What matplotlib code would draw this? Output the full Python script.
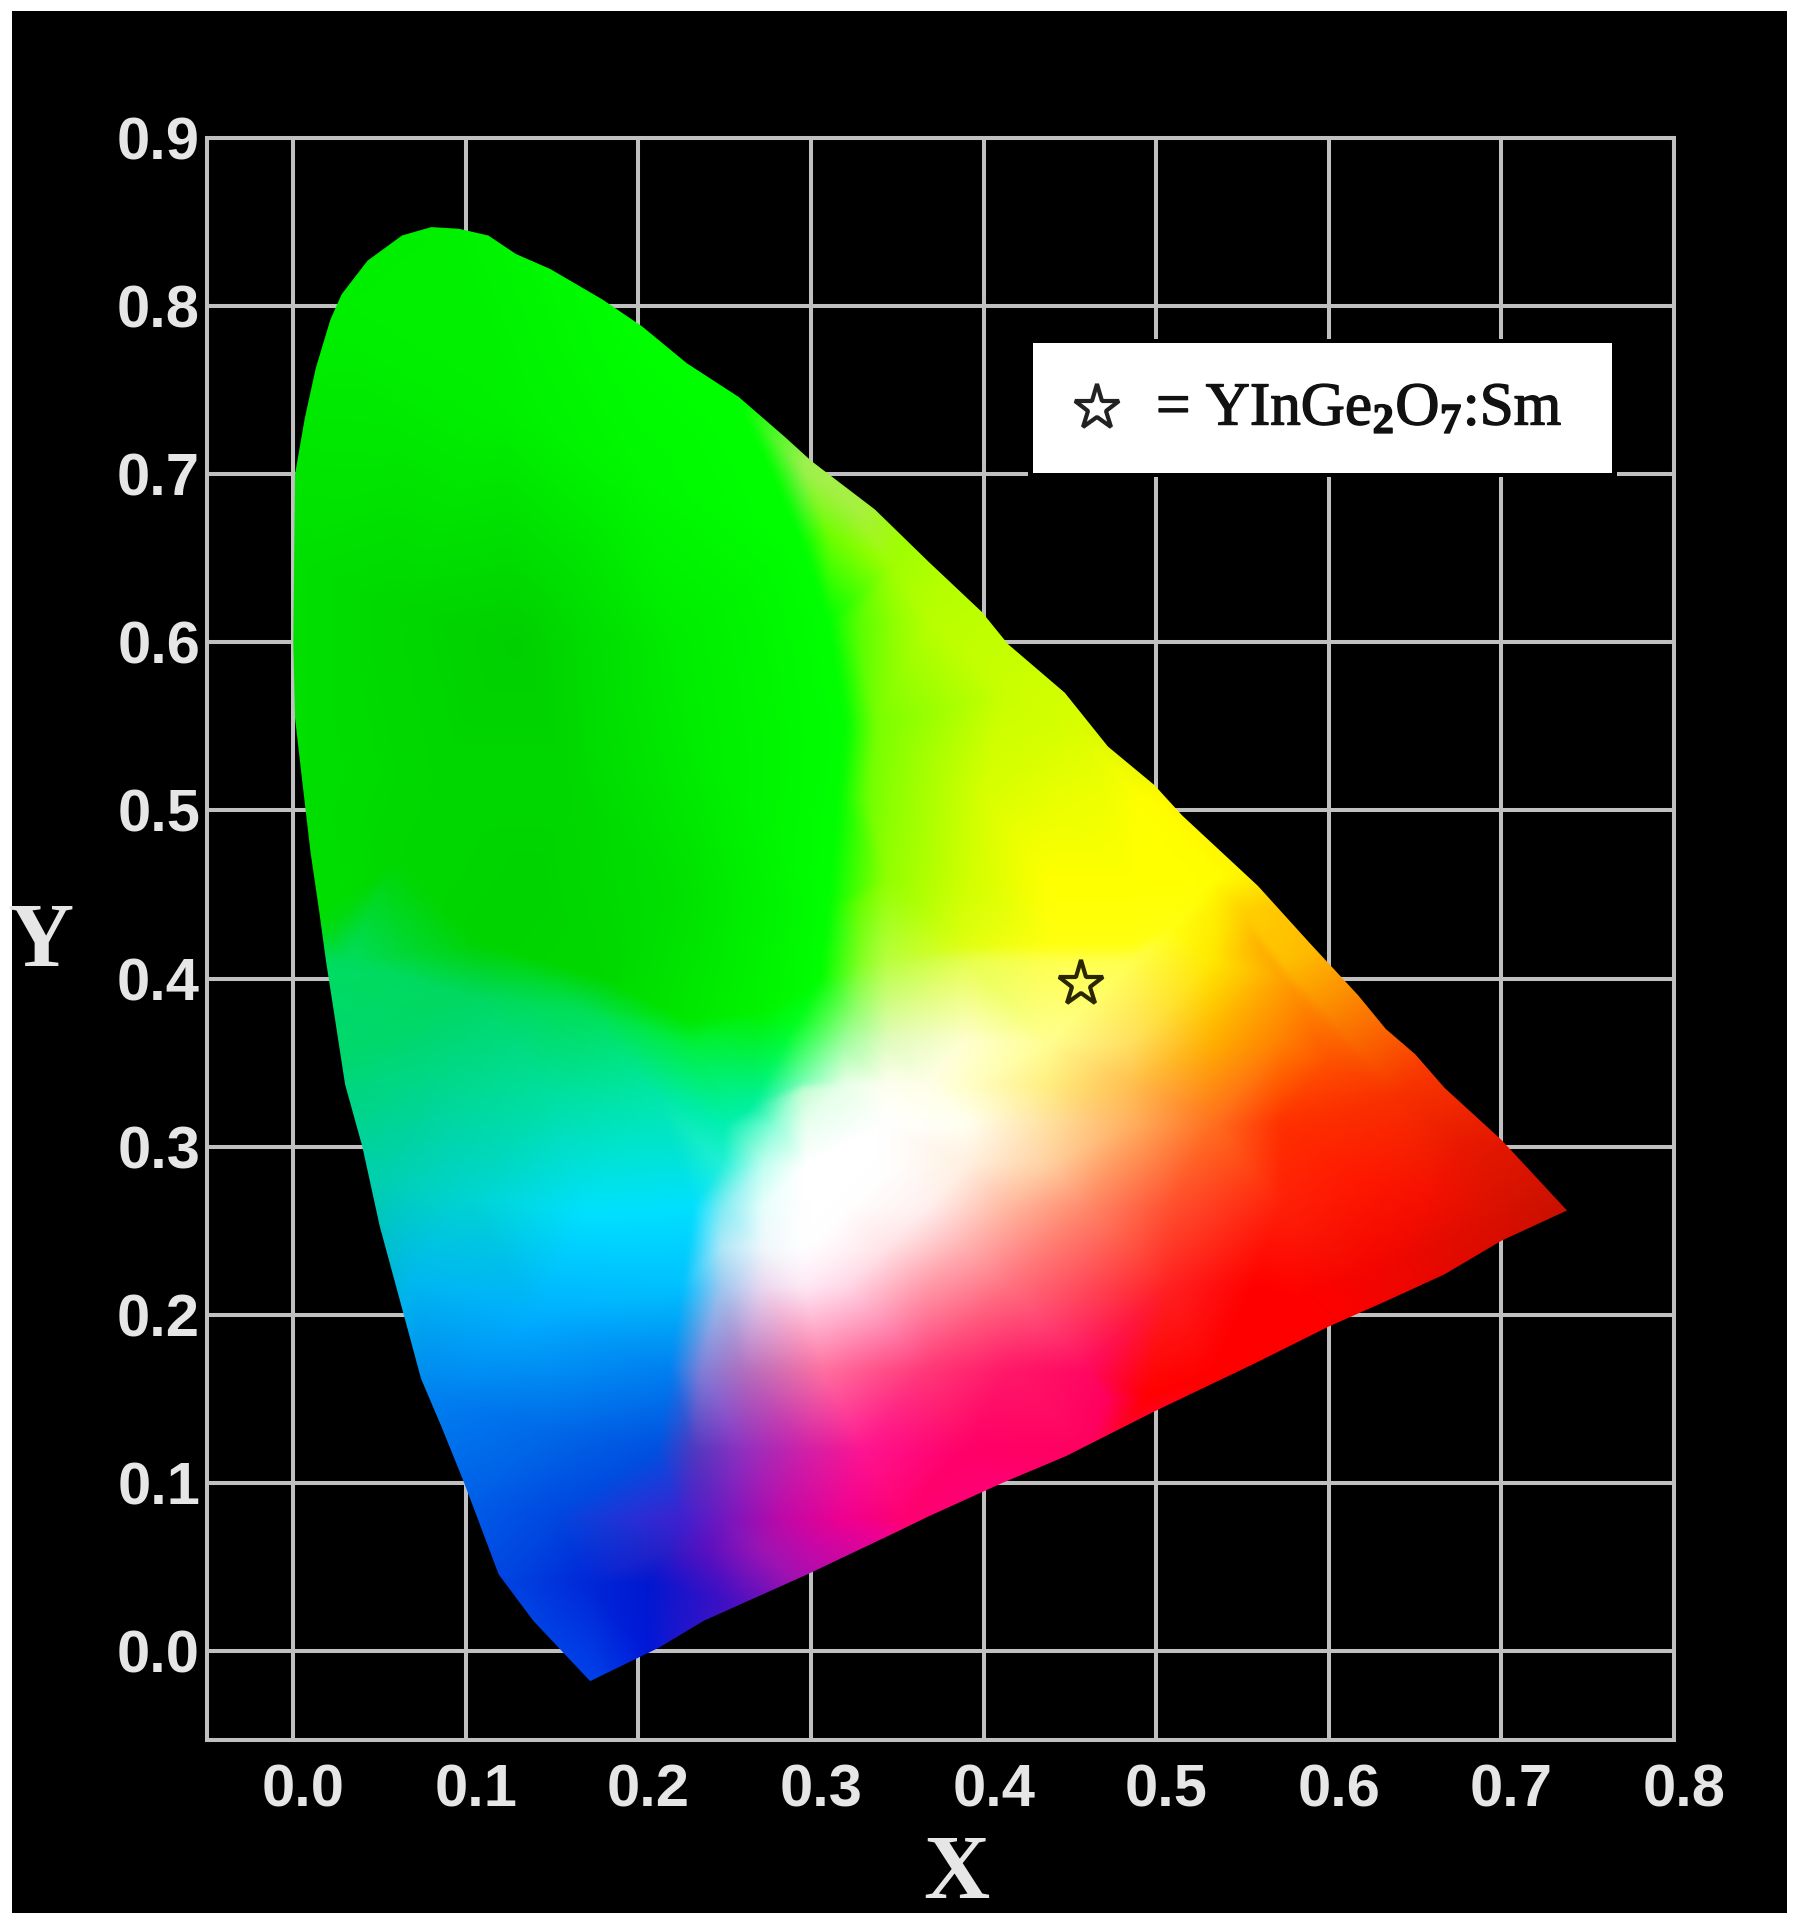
import numpy as np
import matplotlib as mpl
mpl.use('Agg')
import matplotlib.pyplot as plt
import matplotlib.patheffects as pe
from matplotlib.colors import to_rgb
from matplotlib.patches import Polygon, Rectangle
from matplotlib.transforms import ScaledTranslation
from matplotlib.tri import Triangulation, LinearTriInterpolator

W, H = 1801, 1923

# outline of the colour area
locus_x = [0.000, 0.001, 0.0066, 0.013, 0.0215, 0.028, 0.043, 0.063, 0.080, 0.096, 0.113, 0.129, 0.149, 0.179,
           0.202, 0.228, 0.258, 0.285, 0.300, 0.337, 0.368, 0.399, 0.414, 0.447, 0.472, 0.499, 0.515, 0.559,
           0.589, 0.617, 0.633, 0.650, 0.667, 0.700, 0.738, 0.700, 0.667, 0.633, 0.600, 0.557,
           0.498, 0.448, 0.411, 0.368, 0.350, 0.298, 0.238, 0.212, 0.172, 0.139, 0.119, 0.099, 0.086, 0.074,
           0.064, 0.050, 0.040, 0.030, 0.024, 0.019, 0.015, 0.010, 0.005, 0.001]
locus_y = [0.600, 0.700, 0.733, 0.763, 0.792, 0.807, 0.827, 0.842, 0.847, 0.846, 0.842, 0.831, 0.822, 0.804,
           0.788, 0.766, 0.746, 0.722, 0.708, 0.679, 0.648, 0.618, 0.599, 0.570, 0.538, 0.515, 0.497, 0.455,
           0.421, 0.390, 0.370, 0.355, 0.335, 0.304, 0.262, 0.244, 0.224, 0.208, 0.193, 0.171,
           0.142, 0.116, 0.100, 0.080, 0.071, 0.0456, 0.018, 0.002, -0.018, 0.018, 0.0455, 0.100, 0.133, 0.162,
           0.200, 0.253, 0.300, 0.337, 0.377, 0.410, 0.440, 0.475, 0.519, 0.555]

# colours seen at points inside the area
green_x = [-0.05, 0.02, 0.08, 0.20, 0.26, 0.06, 0.12, 0.20, 0.278, 0.00, 0.06, 0.13, 0.22, 0.295, 0.31, 0.00, 0.08,
           0.16, 0.25, 0.32, 0.316, 0.01, 0.06, 0.14, 0.22, 0.31, 0.02, 0.11, 0.18, 0.228, 0.27, 0.305, 0.29]
green_y = [0.90, 0.80, 0.85, 0.80, 0.74, 0.72, 0.74, 0.70, 0.70, 0.65, 0.62, 0.60, 0.60, 0.66, 0.614, 0.52, 0.52,
           0.52, 0.52, 0.55, 0.508, 0.44, 0.47, 0.46, 0.45, 0.444, 0.43, 0.42, 0.40, 0.375, 0.38, 0.40, 0.372]
green_c = ['#00e800', '#00f000', '#00f000', '#00ff00', '#00ff00', '#00e800', '#00f000', '#00f800', '#00ff00',
           '#00e000', '#00d800', '#00d000', '#00ec00', '#00ff00', '#00ff00', '#00e000', '#00d800', '#00d800',
           '#00f000', '#00ff00', '#00ff00', '#00e000', '#00d800', '#00d400', '#00e000', '#00ff00', '#00dc10',
           '#00d400', '#00d800', '#00e800', '#00f400', '#00ff00', '#00ff20']

yellow_x = [0.295, 0.31, 0.327, 0.325, 0.338, 0.333, 0.326, 0.347, 0.348, 0.368, 0.41, 0.451, 0.40, 0.348, 0.472,
            0.49, 0.534, 0.575, 0.44, 0.55, 0.56, 0.51]
yellow_y = [0.705, 0.665, 0.678, 0.61, 0.55, 0.508, 0.444, 0.646, 0.50, 0.614, 0.57, 0.55, 0.508, 0.614, 0.508,
            0.508, 0.444, 0.40, 0.50, 0.44, 0.42, 0.43]
yellow_c = ['#a0f050', '#70ff00', '#a8f040', '#50ff00', '#78ff00', '#70ff00', '#60ff00', '#a0ff00', '#90ff00',
            '#b8ff00', '#c8ff00', '#d8ff00', '#d8ff00', '#90ff00', '#f0ff00', '#ffff00', '#fff000', '#ffa000',
            '#ecff00', '#ffd000', '#ffb000', '#ffff10']

# rows through the middle, top to bottom
mid_x = [0.343, 0.39, 0.437, 0.485, 0.532,
         0.39, 0.437, 0.485,
         0.328, 0.343, 0.39, 0.437, 0.485, 0.532, 0.572,
         0.325, 0.295, 0.319, 0.343, 0.39, 0.437, 0.485, 0.532, 0.572,
         0.296, 0.319, 0.343, 0.367, 0.39, 0.437, 0.485,
         0.28, 0.296, 0.343, 0.39, 0.437, 0.485, 0.532, 0.572,
         0.248, 0.272, 0.296, 0.343, 0.39, 0.437,
         0.248, 0.272, 0.296, 0.319, 0.367, 0.414, 0.461, 0.508, 0.572,
         0.248, 0.272, 0.296, 0.319, 0.343, 0.39,
         0.248, 0.272, 0.296, 0.319, 0.367, 0.414, 0.461, 0.508, 0.556,
         0.236, 0.26, 0.307, 0.367, 0.414, 0.461, 0.47, 0.495, 0.532,
         0.232, 0.26, 0.296, 0.331, 0.39, 0.461,
         0.225, 0.248, 0.284, 0.319, 0.355]
mid_y = [0.459, 0.459, 0.459, 0.459, 0.459,
         0.42, 0.42, 0.42,
         0.41, 0.41, 0.41, 0.41, 0.41, 0.41, 0.41,
         0.38, 0.335, 0.362, 0.362, 0.362, 0.362, 0.362, 0.362, 0.362,
         0.337, 0.337, 0.337, 0.337, 0.337, 0.337, 0.337,
         0.313, 0.313, 0.313, 0.313, 0.313, 0.313, 0.313, 0.313,
         0.289, 0.289, 0.289, 0.289, 0.289, 0.289,
         0.264, 0.264, 0.264, 0.264, 0.264, 0.264, 0.264, 0.264, 0.264,
         0.24, 0.24, 0.24, 0.24, 0.24, 0.24,
         0.216, 0.216, 0.216, 0.216, 0.216, 0.216, 0.216, 0.216, 0.216,
         0.167, 0.167, 0.167, 0.167, 0.167, 0.167, 0.15, 0.15, 0.167,
         0.119, 0.119, 0.119, 0.119, 0.119, 0.119,
         0.078, 0.078, 0.078, 0.078, 0.078]
mid_c = ['#90ff00', '#d0ff00', '#ffff00', '#ffff00', '#ffff00',
         '#e0ff10', '#ffff10', '#ffff10',
         '#80ff20', '#b8ff40', '#e8ff50', '#ffff50', '#ffff50', '#ffe800', '#ffc000',
         '#90ff70', '#c0ffd0', '#a0ffa0', '#e0fcc0', '#ffffd0', '#ffff90', '#ffe060', '#ffb000', '#ff8000',
         '#80ffb8', '#e8ffe8', '#fffff0', '#ffffe8', '#ffffc8', '#ffee80', '#ffc050',
         '#90ffd8', '#e8fff0', '#ffffff', '#fffff0', '#ffe0a0', '#ffb060', '#ff7020', '#ff3000',
         '#20f0d8', '#c0fff0', '#ffffff', '#ffffff', '#fff0e0', '#ffd0a0',
         '#80ecf4', '#e8fffc', '#ffffff', '#ffffff', '#fff0f0', '#ffb8a0', '#ff8868', '#ff5030', '#ff2008',
         '#b0e8f8', '#f0f8fc', '#ffffff', '#fff4f8', '#ffe4e8', '#ffb0b0',
         '#a0c8f0', '#ecd8f0', '#ffe8f4', '#ffd8e8', '#ff98a8', '#ff7080', '#ff4858', '#ff2020', '#ff0000',
         '#8080d8', '#b070c0', '#ff70a0', '#ff3878', '#ff1868', '#ff0860', '#ff0060', '#ff0000', '#ff0000',
         '#5038c0', '#9030c0', '#d020a8', '#ff1490', '#ff0068', '#ff0060',
         '#4020d0', '#7018c0', '#c008a8', '#f00090', '#ff0070']

red_x = [0.60, 0.64, 0.68, 0.74, 0.80, 0.62, 0.66, 0.70, 0.58, 0.62, 0.60, 0.52, 0.47]
red_y = [0.35, 0.33, 0.30, 0.26, 0.30, 0.28, 0.27, 0.26, 0.21, 0.22, 0.19, 0.16, 0.12]
red_c = ['#ff5000', '#f83000', '#e81800', '#c81000', '#c81000', '#ff1800', '#f41000', '#d81000', '#ff0000',
         '#f40400', '#ff0000', '#ff0000', '#ff0040']

low_x = [0.215, 0.24, 0.27, 0.30, 0.34, 0.40, 0.215, 0.25, 0.30, 0.36]
low_y = [0.06, 0.06, 0.06, 0.06, 0.07, 0.09, 0.01, 0.03, 0.03, 0.05]
low_c = ['#2820c8', '#5c10c0', '#9c14b4', '#c408a8', '#f00090', '#ff0078', '#1018d0', '#4010c4', '#a010b0', '#ff0088']

teal_x = [-0.05, 0.03, 0.10, 0.17, 0.23, 0.265, 0.03, 0.08, 0.15, 0.21, 0.25, 0.05, 0.10, 0.17, 0.232, 0.07, 0.14,
          0.225, 0.08, 0.15, 0.218, 0.10, 0.15, 0.21, 0.13, 0.17, 0.205, 0.14, 0.175, 0.205, -0.05, 0.17]
teal_y = [0.40, 0.41, 0.39, 0.38, 0.36, 0.323, 0.35, 0.34, 0.33, 0.33, 0.313, 0.28, 0.27, 0.26, 0.264, 0.22, 0.20,
          0.216, 0.15, 0.13, 0.167, 0.09, 0.08, 0.119, 0.04, 0.04, 0.04, 0.00, -0.02, 0.00, -0.05, -0.05]
teal_c = ['#00d870', '#00dc60', '#00d860', '#00e058', '#00f040', '#00f0a0', '#00d870', '#00d888', '#00e0a0',
          '#00e8a8', '#00f0b0', '#00d0b0', '#00d4d0', '#00e0ff', '#00e0ff', '#00b8f0', '#00b0ff', '#00c0ff',
          '#0080f0', '#0068e8', '#0080f0', '#0060e8', '#0048e0', '#0050e0', '#0040e0', '#0028d8', '#0018d0',
          '#0048e8', '#0040e8', '#0018d8', '#0040e8', '#0040e8']

corner_x = [0.80, 0.80, 0.45, 0.30, 0.80]
corner_y = [0.90, 0.50, 0.90, -0.05, -0.05]
corner_c = ['#ffff00', '#ff8000', '#80ff00', '#c000a0', '#ff0000']

x_ticks = [0.0, 0.1, 0.2, 0.3, 0.4, 0.5, 0.6, 0.7, 0.8]
y_ticks = [0.0, 0.1, 0.2, 0.3, 0.4, 0.5, 0.6, 0.7, 0.8, 0.9]
x_labels = ['0.0', '0.1', '0.2', '0.3', '0.4', '0.5', '0.6', '0.7', '0.8']
y_labels = ['0.0', '0.1', '0.2', '0.3', '0.4', '0.5', '0.6', '0.7', '0.8', '0.9']

sample_x = [0.4566]
sample_y = [0.3965]
legend_text = r'= YInGe$_{2}$O$_{7}$:Sm'

plt.rcParams['mathtext.fontset'] = 'custom'
plt.rcParams['mathtext.rm'] = 'Liberation Serif:bold'
plt.rcParams['mathtext.default'] = 'rm'


def fx(px):
    return px / W


def fy(py):
    return 1 - py / H


fig = plt.figure(figsize=(W / 100, H / 100), dpi=100, facecolor='white')
grey = '#c0c0c0'
label_grey = '#e6e6e6'

# black plate behind everything
fig.add_artist(Rectangle((fx(12), fy(1913)), fx(1775), 1902 / H, transform=fig.transFigure,
                         facecolor='black', edgecolor='none', zorder=-5))

ax = fig.add_axes([fx(207), fy(1740), fx(1674 - 207), (1740 - 138) / H])
ax.set_facecolor('black')
ax.set_xlim(-0.05, 0.8)
ax.set_ylim(-0.053, 0.9)

# colour field from the colours seen at the points above
pts_x = np.array(green_x + yellow_x + mid_x + red_x + low_x + teal_x + corner_x)
pts_y = np.array(green_y + yellow_y + mid_y + red_y + low_y + teal_y + corner_y)
pts_c = np.array([to_rgb(c) for c in green_c + yellow_c + mid_c + red_c + low_c + teal_c + corner_c])
tri = Triangulation(pts_x, pts_y)
grid_x, grid_y = np.meshgrid(np.linspace(-0.05, 0.8, 850), np.linspace(-0.053, 0.9, 950))
field = np.zeros(grid_x.shape + (3,))
kernel = np.array([1, 4, 8, 12, 14, 12, 8, 4, 1], dtype=float)
kernel = kernel / kernel.sum()
for i in range(3):
    chan = LinearTriInterpolator(tri, pts_c[:, i])(grid_x, grid_y)
    chan = np.ma.filled(chan, 0.0)
    pad = np.pad(chan, 4, mode='edge')
    pad = np.apply_along_axis(lambda r: np.convolve(r, kernel, mode='same'), 0, pad)
    pad = np.apply_along_axis(lambda r: np.convolve(r, kernel, mode='same'), 1, pad)
    field[:, :, i] = pad[4:-4, 4:-4]
field = np.clip(field, 0, 1)

im = ax.imshow(field, origin='lower', extent=(-0.05, 0.8, -0.053, 0.9), aspect='auto',
               interpolation='bilinear', zorder=1)
outline = Polygon(np.column_stack([locus_x, locus_y]), closed=True, transform=ax.transData,
                  facecolor='none', edgecolor='none')
ax.add_patch(outline)
im.set_clip_path(outline)

ax.set_xticks(x_ticks)
ax.set_xticklabels(x_labels, fontfamily='Liberation Sans', fontweight='bold', fontsize=43, color=label_grey)
ax.set_yticks(y_ticks)
ax.set_yticklabels(y_labels, fontfamily='Liberation Sans', fontweight='bold', fontsize=43, color=label_grey)
ax.tick_params(axis='x', length=0, pad=17)
ax.tick_params(axis='y', length=0, pad=5)
ax.set_axisbelow(True)
ax.grid(True, color=grey, linewidth=2.9)
for s in ax.spines.values():
    s.set_color(grey)
    s.set_linewidth(2.9)
shift = ScaledTranslation(10 / 100, 0, fig.dpi_scale_trans)
for lab in ax.get_xticklabels():
    lab.set_transform(lab.get_transform() + shift)

ax.plot(sample_x, sample_y, marker='*', ms=34, mfc='none', mec='#2a2600', mew=3, ls='none', zorder=3)

fig.text(fx(956), fy(1876), 'X', family='Liberation Serif', fontweight='bold', fontsize=66,
         color=label_grey, ha='center', va='center')
fig.text(fx(40), fy(944), 'Y', family='Liberation Serif', fontweight='bold', fontsize=66,
         color=label_grey, ha='center', va='center')

# legend plate
fig.add_artist(Rectangle((fx(1028), fy(477)), fx(589), 138 / H, transform=fig.transFigure,
                         facecolor='black', edgecolor='none', zorder=6))
fig.add_artist(Rectangle((fx(1033), fy(473)), fx(579), 130 / H, transform=fig.transFigure,
                         facecolor='white', edgecolor='none', zorder=7))
fig.add_artist(plt.Line2D([fx(1097)], [fy(408)], marker='*', ms=34, mfc='white', mec='#222222', mew=3,
                          transform=fig.transFigure, zorder=8))
fig.text(fx(1156), fy(425), legend_text, family='Liberation Serif', fontsize=44,
         color='#111111', ha='left', va='baseline', zorder=8,
         path_effects=[pe.withStroke(linewidth=1.0, foreground='#111111')])

fig.savefig('out.png', dpi=100, facecolor='white')
